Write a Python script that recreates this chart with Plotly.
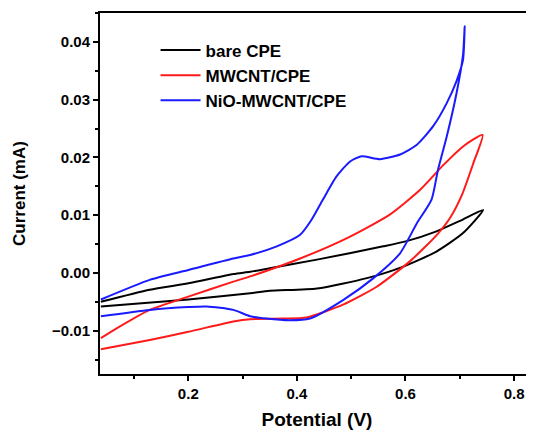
import plotly.graph_objects as go

names = ["bare CPE", "MWCNT/CPE", "NiO-MWCNT/CPE"]
colors = ["#000000", "#ff1a1a", "#1a1aff"]

# bare CPE: forward (upper) then reverse (lower) branch
bare_x = [0.039, 0.129, 0.200, 0.283, 0.314, 0.350, 0.437, 0.559, 0.602, 0.657, 0.700, 0.743,
          0.706, 0.657, 0.596, 0.529, 0.437, 0.350, 0.314, 0.200, 0.120, 0.039]
bare_y = [-0.0050, -0.0029, -0.0018, -0.0002, 0.0002, 0.0008, 0.0023, 0.0046, 0.0055, 0.0072, 0.0090, 0.0109,
          0.0069, 0.0037, 0.0011, -0.0009, -0.0027, -0.0031, -0.0035, -0.0046, -0.0052, -0.0058]

# MWCNT/CPE
mw_x = [0.039, 0.068, 0.129, 0.200, 0.283, 0.314, 0.406, 0.498, 0.571, 0.627, 0.670, 0.706, 0.742,
        0.725, 0.704, 0.682, 0.657, 0.608, 0.547, 0.485, 0.418, 0.375, 0.314, 0.283, 0.200, 0.129, 0.039]
mw_y = [-0.0113, -0.0096, -0.0064, -0.0041, -0.0015, -0.0006, 0.0025, 0.0063, 0.0101, 0.0144, 0.0187, 0.0219, 0.0239,
        0.0190, 0.0135, 0.0095, 0.0065, 0.0020, -0.0024, -0.0055, -0.0077, -0.0079, -0.0080, -0.0084, -0.0102, -0.0116, -0.0132]

# NiO-MWCNT/CPE
nio_x = [0.039, 0.129, 0.200, 0.283, 0.314, 0.363, 0.406, 0.427, 0.448, 0.473, 0.498, 0.519, 0.553,
         0.590, 0.621, 0.651, 0.676, 0.694, 0.706, 0.709,
         0.706, 0.694, 0.676, 0.660, 0.648, 0.621, 0.590, 0.541, 0.485, 0.424, 0.387, 0.344, 0.314,
         0.283, 0.234, 0.200, 0.129, 0.039]
nio_y = [-0.0046, -0.0012, 0.0005, 0.0025, 0.0031, 0.0046, 0.0066, 0.0092, 0.0127, 0.0167, 0.0193, 0.0202, 0.0197,
         0.0205, 0.0222, 0.0254, 0.0294, 0.0332, 0.0369, 0.0427,
         0.0378, 0.0311, 0.0236, 0.0179, 0.0127, 0.0086, 0.0034, -0.0009, -0.0047, -0.0079, -0.0082, -0.0079, -0.0075,
         -0.0064, -0.0058, -0.0059, -0.0064, -0.0075]

x_ticks = [0.2, 0.4, 0.6, 0.8]
y_ticks = [-0.01, 0.00, 0.01, 0.02, 0.03, 0.04]

FONT = "Liberation Sans, Arial, sans-serif"

fig = go.Figure()
for nm, c, xs, ys in zip(names, colors, [bare_x, mw_x, nio_x], [bare_y, mw_y, nio_y]):
    fig.add_trace(go.Scatter(x=xs, y=ys, mode="lines", name=nm,
                             line=dict(color=c, width=2, shape="spline", smoothing=0.6)))

fig.update_layout(
    width=526, height=426,
    margin=dict(l=92, r=0, t=5, b=60),
    paper_bgcolor="white", plot_bgcolor="white",
    font=dict(family=FONT, color="black", size=15, weight="bold"),
    showlegend=True,
    legend=dict(x=0.128, y=0.946, xanchor="left", yanchor="top",
                bgcolor="rgba(0,0,0,0)", font=dict(size=17, weight="bold"),
                tracegroupgap=0, itemwidth=40),
)
fig.update_xaxes(
    range=[0.0374, 0.8367], showgrid=False, zeroline=False, automargin=False,
    showline=True, linecolor="black", linewidth=2, mirror=True,
    ticks="outside", ticklen=5, tickwidth=2, tickcolor="black",
    tickvals=x_ticks, tickformat=".1f", tickfont=dict(size=15, weight="bold"),
    minor=dict(dtick=0.1, tick0=0, ticks="outside", ticklen=3, tickwidth=2, tickcolor="black"),
    title=dict(text="Potential (V)", font=dict(size=19, weight="bold"), standoff=12),
)
fig.update_yaxes(
    range=[-0.0175, 0.0450], showgrid=False, zeroline=False, automargin=False,
    showline=True, linecolor="black", linewidth=2, mirror=False,
    ticks="outside", ticklen=5, tickwidth=2, tickcolor="black",
    tickvals=y_ticks, tickformat=".2f", tickfont=dict(size=15, weight="bold"),
    minor=dict(dtick=0.005, tick0=0, ticks="outside", ticklen=3, tickwidth=2, tickcolor="black"),
    title=dict(text="Current (mA)", font=dict(size=17, weight="bold"), standoff=22),
)

fig.write_html("out.html")
